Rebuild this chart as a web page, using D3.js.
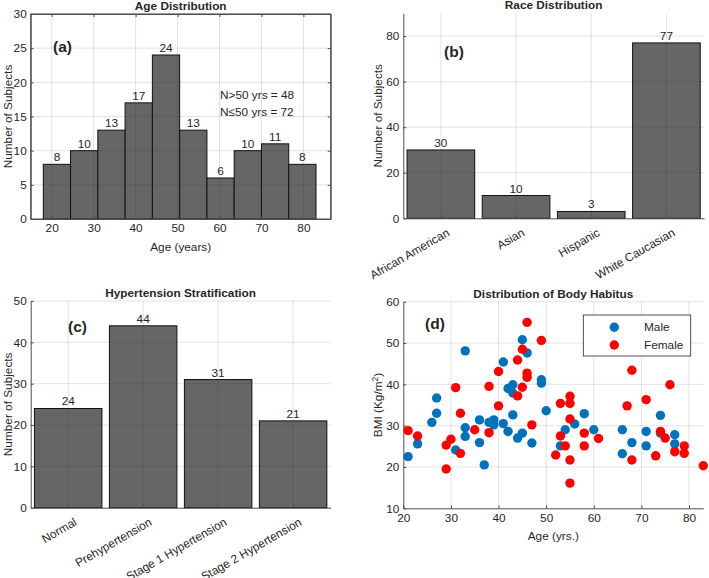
<!DOCTYPE html>
<html><head><meta charset="utf-8">
<script src="https://cdn.jsdelivr.net/npm/d3@7"></script>
<style>
body{margin:0;background:#fff}
text{font-family:"Liberation Sans",Arial,Helvetica,sans-serif;fill:#262626}
</style>
</head><body>
<svg id="chart" width="709" height="578"></svg>
<script>
// ---------- DATA ----------
const ageBinEdges = [18, 24.5, 31, 37.5, 44, 50.5, 57, 63.5, 70, 76.5, 83];
const ageCounts = [8, 10, 13, 17, 24, 13, 6, 10, 11, 8];
const ageXTicks = [20, 30, 40, 50, 60, 70, 80];
const ageYTicks = [0, 5, 10, 15, 20, 25, 30];
const ageNotes = ["N>50 yrs = 48", "N\u226450 yrs = 72"];

const raceCategories = ["African American", "Asian", "Hispanic", "White Caucasian"];
const raceCounts = [30, 10, 3, 77];
const raceYTicks = [0, 20, 40, 60, 80];

const htnCategories = ["Normal", "Prehypertension", "Stage 1 Hypertension", "Stage 2 Hypertension"];
const htnCounts = [24, 44, 31, 21];
const htnYTicks = [0, 10, 20, 30, 40, 50];

const maleAge = [21, 23, 26, 27, 27, 33, 33, 33, 31, 36, 36, 37, 38, 39, 39, 41, 41, 42, 42, 43, 43, 43, 44, 45, 45, 46, 47, 49, 49, 50, 53, 54, 56, 58, 60, 66, 66, 68, 71, 71, 74, 74, 77, 77];
const maleBMI = [22.5, 25.6, 30.8, 36.7, 33.0, 48.1, 29.5, 27.4, 24.1, 31.4, 25.9, 20.5, 30.8, 31.4, 30.2, 30.5, 45.4, 39.0, 28.6, 37.9, 39.9, 32.6, 27.0, 28.2, 50.8, 47.6, 25.8, 41.1, 40.3, 33.6, 25.1, 29.0, 30.4, 32.9, 29.0, 29.0, 23.2, 25.9, 28.6, 25.1, 32.5, 28.2, 27.8, 25.6];
const femaleAge = [21, 23, 29, 29, 30, 31, 32, 32, 35, 38, 38, 40, 40, 44, 44, 45, 45, 46, 46, 46, 47, 49, 52, 53, 53, 54, 55, 55, 55, 55, 55, 58, 58, 61, 67, 68, 68, 71, 73, 74, 75, 76, 77, 79, 79, 83];
const femaleBMI = [28.8, 27.5, 25.3, 19.5, 26.7, 39.2, 33.0, 23.3, 29.0, 39.5, 28.3, 43.1, 34.8, 45.9, 37.2, 48.5, 39.3, 55.0, 42.7, 41.7, 30.2, 50.6, 22.9, 35.4, 27.5, 25.1, 37.1, 35.4, 31.6, 21.7, 16.1, 28.2, 25.1, 26.9, 34.8, 43.4, 21.7, 36.3, 22.7, 28.6, 27.0, 39.9, 23.7, 25.1, 23.3, 20.3];
const bmiXTicks = [20, 30, 40, 50, 60, 70, 80];
const bmiYTicks = [10, 20, 30, 40, 50, 60];
const legendLabels = ["Male", "Female"];

// ---------- STYLE ----------
const FS = 11.8;
const barFill = "#666666";
const axisColor = "#4d4d4d";
const gridColor = "rgba(38,38,38,0.13)";
const maleColor = "#0072BD";
const femaleColor = "#FF0000";

const svg = d3.select("#chart");

function grid(g, x, y, xt, yt, box) {
  g.append("g").selectAll("line").data(xt).join("line")
    .attr("x1", d => x(d)).attr("x2", d => x(d))
    .attr("y1", box.top).attr("y2", box.bottom)
    .attr("stroke", gridColor).attr("stroke-width", 1);
  g.append("g").selectAll("line").data(yt).join("line")
    .attr("y1", d => y(d)).attr("y2", d => y(d))
    .attr("x1", box.left).attr("x2", box.right)
    .attr("stroke", gridColor).attr("stroke-width", 1);
}

function styleAxis(sel) {
  sel.select(".domain").attr("stroke", axisColor).attr("stroke-width", 1);
  sel.selectAll(".tick line").attr("stroke", axisColor);
  sel.selectAll(".tick text").attr("font-size", FS).attr("fill", "#262626")
     .style("font-family", '"Liberation Sans",Arial,sans-serif');
}

function title(g, box, txt) {
  g.append("text").attr("x", (box.left + box.right) / 2).attr("y", box.top - 4)
    .attr("text-anchor", "middle").attr("font-size", FS).attr("font-weight", "bold").text(txt);
}
function ylabel(g, xpos, box, txt) {
  return g.append("text").attr("transform", `translate(${xpos},${(box.top + box.bottom) / 2}) rotate(-90)`)
    .attr("text-anchor", "middle").attr("font-size", FS).text(txt);
}
function panelTag(g, x, y, txt) {
  g.append("text").attr("x", x).attr("y", y).attr("font-size", 15.5).attr("font-weight", "bold").text(txt);
}

// ---------- (a) Age Distribution ----------
{
  const box = {left: 30.7, right: 330.7, top: 14, bottom: 219};
  const g = svg.append("g");
  const x = d3.scaleLinear().domain([15, 86.5]).range([box.left, box.right]);
  const y = d3.scaleLinear().domain([0, 30]).range([box.bottom, box.top]);
  const bins = ageCounts.map((c, i) => ({x0: ageBinEdges[i], x1: ageBinEdges[i + 1], c}));
  g.append("g").selectAll("rect").data(bins).join("rect")
    .attr("x", d => x(d.x0)).attr("width", d => x(d.x1) - x(d.x0))
    .attr("y", d => y(d.c)).attr("height", d => y(0) - y(d.c))
    .attr("fill", barFill).attr("stroke", "#111").attr("stroke-width", 1);
  grid(g, x, y, ageXTicks, ageYTicks.slice(1), box);
  g.append("g").selectAll("text").data(bins).join("text")
    .attr("x", d => x((d.x0 + d.x1) / 2)).attr("y", d => y(d.c) - 3)
    .attr("text-anchor", "middle").attr("font-size", FS).text(d => d.c);
  g.append("rect").attr("x", box.left).attr("y", box.top).attr("width", box.right - box.left)
    .attr("height", box.bottom - box.top).attr("fill", "none").attr("stroke", axisColor);
  const ax = g.append("g").attr("transform", `translate(0,${box.bottom})`)
    .call(d3.axisBottom(x).tickValues(ageXTicks).tickSize(-3).tickPadding(5).tickSizeOuter(0));
  styleAxis(ax);
  const ay = g.append("g").attr("transform", `translate(${box.left},0)`)
    .call(d3.axisLeft(y).tickValues(ageYTicks).tickSize(-3).tickPadding(4).tickSizeOuter(0));
  styleAxis(ay);
  g.append("g").attr("transform", `translate(0,${box.top})`)
    .call(d3.axisBottom(x).tickValues(ageXTicks).tickSize(3).tickFormat("").tickSizeOuter(0)).call(styleAxis);
  g.append("g").attr("transform", `translate(${box.right},0)`)
    .call(d3.axisRight(y).tickValues(ageYTicks).tickSize(-3).tickFormat("").tickSizeOuter(0)).call(styleAxis);
  title(g, box, "Age Distribution");
  ylabel(g, 12, box, "Number of Subjects");
  g.append("text").attr("x", (box.left + box.right) / 2).attr("y", 251)
    .attr("text-anchor", "middle").attr("font-size", FS).text("Age (years)");
  panelTag(g, 53, 52, "(a)");
  g.selectAll(".note").data(ageNotes).join("text").attr("class", "note")
    .attr("x", 220).attr("y", (d, i) => 99 + i * 16.5).attr("font-size", FS).text(d => d);
}

// ---------- categorical bar panel ----------
function catPanel(box, cats, counts, ymax, yt, tTitle, tag, tagPos, ylabX) {
  const g = svg.append("g");
  const x = d3.scaleLinear().domain([0.5, 4.5]).range([box.left, box.right]);
  const y = d3.scaleLinear().domain([0, ymax]).range([box.bottom, box.top]);
  const idx = cats.map((c, i) => i + 1);
  g.append("g").selectAll("rect").data(counts).join("rect")
    .attr("x", (d, i) => x(i + 1 - 0.45)).attr("width", x(1.45) - x(0.55))
    .attr("y", d => y(d)).attr("height", d => y(0) - y(d))
    .attr("fill", barFill).attr("stroke", "#111").attr("stroke-width", 1);
  grid(g, x, y, idx, yt.slice(1), box);
  g.append("g").selectAll("text").data(counts).join("text")
    .attr("x", (d, i) => x(i + 1)).attr("y", d => y(d) - 3)
    .attr("text-anchor", "middle").attr("font-size", FS).text(d => d);
  const ax = g.append("g").attr("transform", `translate(0,${box.bottom})`)
    .call(d3.axisBottom(x).tickValues(idx).tickSize(-3).tickFormat("").tickSizeOuter(0));
  styleAxis(ax);
  g.append("g").selectAll("text.cl").data(cats).join("text").attr("class", "cl")
    .attr("transform", (d, i) => `translate(${x(i + 1) + 5},${box.bottom + 9}) rotate(-30)`)
    .attr("text-anchor", "end").attr("dy", "0.75em").attr("font-size", FS).text(d => d);
  const ay = g.append("g").attr("transform", `translate(${box.left},0)`)
    .call(d3.axisLeft(y).tickValues(yt).tickSize(-3).tickPadding(4).tickSizeOuter(0));
  styleAxis(ay);
  title(g, box, tTitle);
  ylabel(g, ylabX, box, "Number of Subjects");
  panelTag(g, tagPos[0], tagPos[1], tag);
}

catPanel({left: 403.3, right: 704, top: 13.3, bottom: 218.3}, raceCategories, raceCounts, 90, raceYTicks,
  "Race Distribution", "(b)", [444, 57], 382);
catPanel({left: 30.7, right: 330.6, top: 301, bottom: 507.7}, htnCategories, htnCounts, 50, htnYTicks,
  "Hypertension Stratification", "(c)", [68, 332], 12);

// ---------- (d) Body habitus scatter ----------
{
  const box = {left: 403.3, right: 703.3, top: 301.7, bottom: 508.3};
  const g = svg.append("g");
  const x = d3.scaleLinear().domain([20, 83]).range([box.left, box.right]);
  const y = d3.scaleLinear().domain([10, 60]).range([box.bottom, box.top]);
  grid(g, x, y, bmiXTicks.slice(1), bmiYTicks.slice(1), box);
  const ax = g.append("g").attr("transform", `translate(0,${box.bottom})`)
    .call(d3.axisBottom(x).tickValues(bmiXTicks).tickSize(-3).tickPadding(5).tickSizeOuter(0));
  styleAxis(ax);
  const ay = g.append("g").attr("transform", `translate(${box.left},0)`)
    .call(d3.axisLeft(y).tickValues(bmiYTicks).tickSize(-3).tickPadding(4).tickSizeOuter(0));
  styleAxis(ay);
  const r = 4.7;
  g.append("g").selectAll("circle").data(maleAge.map((a, i) => [a, maleBMI[i]])).join("circle")
    .attr("cx", d => x(d[0])).attr("cy", d => y(d[1])).attr("r", r).attr("fill", maleColor);
  g.append("g").selectAll("circle").data(femaleAge.map((a, i) => [a, femaleBMI[i]])).join("circle")
    .attr("cx", d => x(d[0])).attr("cy", d => y(d[1])).attr("r", r).attr("fill", femaleColor);
  title(g, box, "Distribution of Body Habitus");
  const yl = ylabel(g, 382, box, "");
  yl.text("BMI (Kg/m");
  yl.append("tspan").attr("dy", -4.5).attr("font-size", 8.5).text("2");
  yl.append("tspan").attr("dy", 4.5).text(")");
  g.append("text").attr("x", (box.left + box.right) / 2).attr("y", 540)
    .attr("text-anchor", "middle").attr("font-size", FS).text("Age (yrs.)");
  panelTag(g, 425, 329, "(d)");
  // legend
  const lg = g.append("g");
  lg.append("rect").attr("x", 583.3).attr("y", 315).attr("width", 107.4).attr("height", 41)
    .attr("fill", "#fff").attr("stroke", "#262626").attr("stroke-width", 0.8);
  const cols = [maleColor, femaleColor];
  legendLabels.forEach((l, i) => {
    lg.append("circle").attr("cx", 614.3).attr("cy", 327.3 + i * 17.7).attr("r", r).attr("fill", cols[i]);
    lg.append("text").attr("x", 644).attr("y", 327.3 + i * 17.7).attr("dy", "0.35em")
      .attr("font-size", FS).text(l);
  });
}
</script>
</body></html>
